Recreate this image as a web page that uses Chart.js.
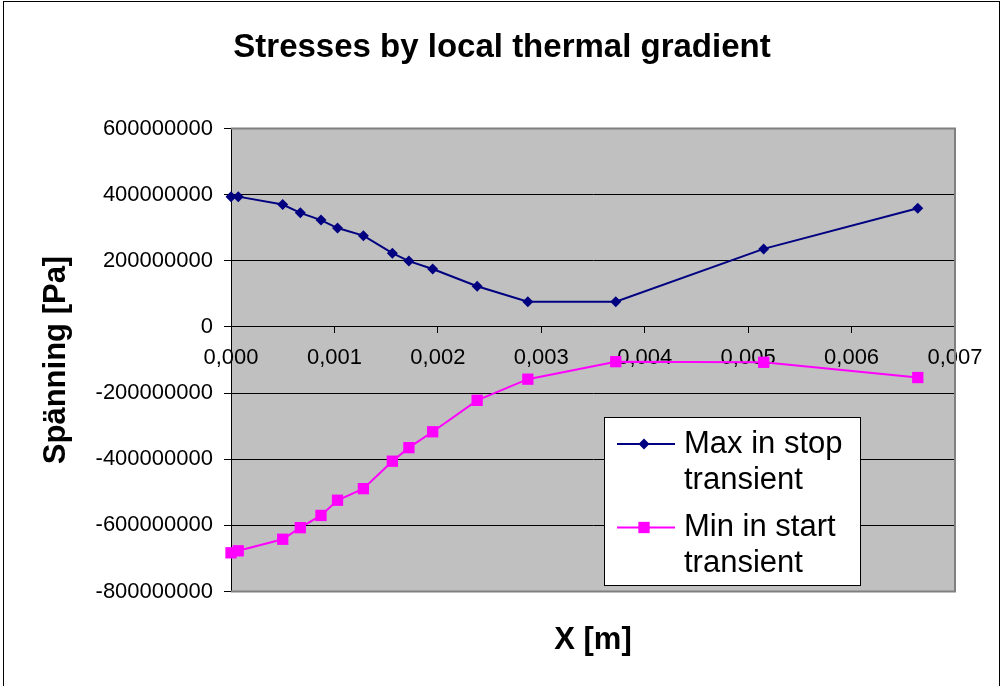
<!DOCTYPE html>
<html>
<head>
<meta charset="utf-8">
<script src="https://cdn.jsdelivr.net/npm/chart.js@4/dist/chart.umd.min.js"></script>
<style>
  html, body { margin: 0; padding: 0; background: #fff; }
  canvas { display: block; }
</style>
</head>
<body>
<canvas id="stressChart" width="1004" height="686"></canvas>
<script>
// depth below the surface, metres
const xPos = [0, 0.00007, 0.0005, 0.00067, 0.00087, 0.00103, 0.00128, 0.00156,
              0.00172, 0.00195, 0.00238, 0.00287, 0.00372, 0.00515, 0.00664];
// stress in Pa
const maxStop = [394000000, 394000000, 370000000, 345000000, 323000000, 299000000,
                 276000000, 223000000, 199000000, 175000000, 123000000, 76000000,
                 76000000, 236000000, 359000000];
const minStart = [-683000000, -677000000, -642000000, -607000000, -570000000,
                  -524000000, -489000000, -406000000, -365000000, -317000000,
                  -222000000, -158000000, -105000000, -107000000, -153000000];
const seriesNames = [['Max in stop', 'transient'], ['Min in start', 'transient']];
const xTickLabels = ['0,000', '0,001', '0,002', '0,003', '0,004', '0,005', '0,006', '0,007'];
const yTickLabels = ['-800000000', '-600000000', '-400000000', '-200000000', '0',
                     '200000000', '400000000', '600000000'];

const FONT = '"Liberation Sans", Arial, sans-serif';
Chart.defaults.font.family = FONT;
Chart.defaults.color = '#000';

const toPoints = ys => ys.map((y, i) => ({ x: xPos[i], y: y }));

// white page with a thin frame, grey plot area
const background = {
  id: 'background',
  beforeDraw: chart => {
    const { ctx, chartArea: a } = chart;
    ctx.save();
    ctx.fillStyle = '#fff';
    ctx.fillRect(0, 0, chart.width, chart.height);
    ctx.strokeStyle = '#000';
    ctx.lineWidth = 1;
    ctx.strokeRect(3.5, 1.5, 996, 700);
    ctx.fillStyle = '#c0c0c0';
    ctx.fillRect(a.left, a.top, a.right - a.left, a.bottom - a.top);
    ctx.restore();
  },
  beforeDatasetsDraw: chart => {
    const { ctx, chartArea: a } = chart;
    ctx.save();
    ctx.strokeStyle = '#808080';
    ctx.lineWidth = 2;
    ctx.beginPath();
    ctx.moveTo(a.left, a.top);
    ctx.lineTo(a.right, a.top);
    ctx.lineTo(a.right, a.bottom);
    ctx.lineTo(a.left, a.bottom);
    ctx.stroke();
    ctx.restore();
  }
};

// boxed legend inside the plot, two-line labels
const boxLegend = {
  id: 'boxLegend',
  afterDraw: chart => {
    const { ctx } = chart;
    ctx.save();
    ctx.fillStyle = '#fff';
    ctx.fillRect(604, 417, 256, 168);
    ctx.strokeStyle = '#000';
    ctx.lineWidth = 1;
    ctx.strokeRect(604.5, 417.5, 256, 168);
    ctx.font = '31px ' + FONT;
    ctx.textBaseline = 'middle';
    chart.data.datasets.forEach((ds, i) => {
      const y = 444 + i * 83.5;
      ctx.strokeStyle = ds.borderColor;
      ctx.lineWidth = 2;
      ctx.beginPath();
      ctx.moveTo(617, y);
      ctx.lineTo(675, y);
      ctx.stroke();
      ctx.fillStyle = ds.pointBackgroundColor;
      Chart.helpers.drawPoint(ctx, {
        pointStyle: ds.pointStyle, radius: ds.pointRadius, borderWidth: 0, rotation: 0
      }, 644, y);
      ctx.fillStyle = '#000';
      seriesNames[i].forEach((line, j) => ctx.fillText(line, 684, y + j * 36));
    });
    ctx.restore();
  }
};

new Chart(document.getElementById('stressChart'), {
  type: 'line',
  data: {
    datasets: [{
      label: seriesNames[0].join(' '),
      data: toPoints(maxStop),
      borderColor: '#000080',
      backgroundColor: '#000080',
      pointBackgroundColor: '#000080',
      pointBorderWidth: 0,
      borderWidth: 2,
      pointStyle: 'rectRot',
      pointRadius: 5.5,
      clip: false
    }, {
      label: seriesNames[1].join(' '),
      data: toPoints(minStart),
      borderColor: '#ff00ff',
      backgroundColor: '#ff00ff',
      pointBackgroundColor: '#ff00ff',
      pointBorderWidth: 0,
      borderWidth: 2,
      pointStyle: 'rect',
      pointRadius: 8,
      clip: false
    }]
  },
  options: {
    responsive: false,
    animation: false,
    events: [],
    layout: { padding: 0 },
    plugins: {
      legend: { display: false },
      tooltip: { enabled: false },
      title: {
        display: true,
        text: 'Stresses by local thermal gradient',
        color: '#000',
        font: { size: 33, weight: 'bold' },
        padding: { top: 28.2, bottom: 60.7 }
      },
      subtitle: {
        display: true,
        text: 'X [m]',
        position: 'bottom',
        fullSize: false,
        color: '#000',
        font: { size: 31, weight: 'bold' },
        padding: { top: 29.9, bottom: 27.4 }
      }
    },
    scales: {
      x: {
        type: 'linear',
        position: { y: 0 },
        min: 0,
        max: 0.007,
        // zero height, keep the gap on the right of the plot
        afterFit: scale => { scale.height = 0; scale.paddingRight = 49; },
        ticks: {
          stepSize: 0.001,
          padding: 12,
          font: { size: 22 },
          color: '#000',
          maxRotation: 0,
          callback: (v, i) => xTickLabels[i] ?? v.toFixed(3).replace('.', ',')
        },
        grid: { drawOnChartArea: false, tickLength: 6, color: '#000' },
        border: { color: '#000', width: 1 }
      },
      y: {
        min: -800000000,
        max: 600000000,
        afterFit: scale => { scale.width = 231; },
        ticks: {
          stepSize: 200000000,
          padding: 11,
          font: { size: 22 },
          color: '#000',
          callback: (v, i) => yTickLabels[i] ?? String(v)
        },
        grid: {
          color: c => (c.tick && (c.tick.value === 600000000 || c.tick.value === -800000000))
            ? '#808080' : '#000',
          tickColor: '#000',
          tickLength: 7
        },
        border: { color: '#000', width: 1 },
        title: {
          display: true,
          text: 'Spänning [Pa]',
          color: '#000',
          font: { size: 31, weight: 'bold' },
          padding: { top: 37.9, bottom: 0 }
        }
      }
    }
  },
  plugins: [background, boxLegend]
});
</script>
</body>
</html>
